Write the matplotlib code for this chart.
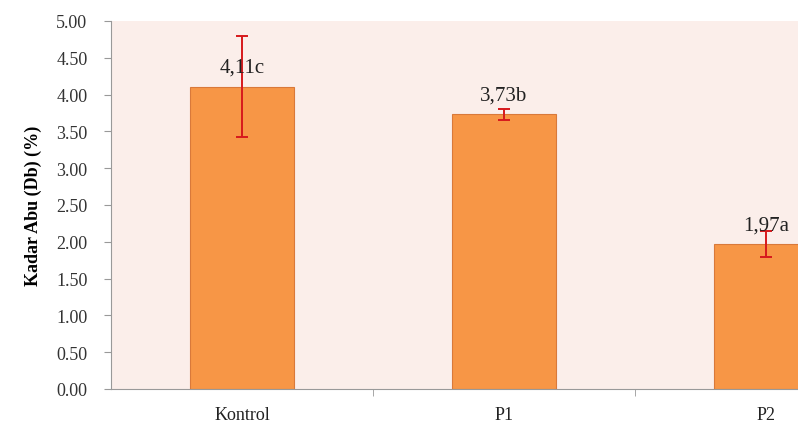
import numpy as np
import matplotlib.pyplot as plt

# data
categories = ['Kontrol', 'P1', 'P2']
values = [4.11, 3.73, 1.97]
errors = [0.69, 0.07, 0.18]
labels = ['4,11c', '3,73b', '1,97a']

plt.rcParams['font.family'] = ['Liberation Serif', 'DejaVu Serif']

fig = plt.figure(figsize=(7.98, 4.27), dpi=100)
# plot area runs past the right edge (cropped chart)
ax = fig.add_axes([111/798, 37/427, 786/798, 368/427])
ax.set_facecolor('#fbeeea')

x = np.arange(len(categories))
ax.bar(x, values, width=0.4, color='#f79646', edgecolor='#d9793a', linewidth=0.8, zorder=2)
ax.errorbar(x, values, yerr=errors, fmt='none', ecolor='#d7191c', elinewidth=1.4,
            capsize=4, capthick=1.4, zorder=3)

for xi, v, lab in zip(x, values, labels):
    ax.text(xi, v + 0.26, lab, ha='center', va='center', fontsize=15, color='#222222', zorder=4)

ax.set_xlim(-0.5, 2.5)
ax.set_ylim(0, 5)
ax.set_yticks(np.arange(0, 5.01, 0.5))
ax.set_yticklabels(['%.2f' % t for t in np.arange(0, 5.01, 0.5)], fontsize=13, color='#333333')
ax.set_xticks(x)
ax.set_xticklabels(categories, fontsize=13, color='#222222')
ax.set_xticks([0.5, 1.5], minor=True)
ax.tick_params(axis='x', which='major', length=0, pad=12)
ax.tick_params(axis='x', which='minor', length=5, color='#999999')
ax.tick_params(axis='y', length=5, color='#999999', pad=12)

for s in ['top', 'right']:
    ax.spines[s].set_visible(False)
for s in ['left', 'bottom']:
    ax.spines[s].set_color('#999999')

ax.set_ylabel('Kadar Abu (Db) (%)', fontsize=13, fontweight='bold', labelpad=10)

fig.savefig('out.png', dpi=100)
